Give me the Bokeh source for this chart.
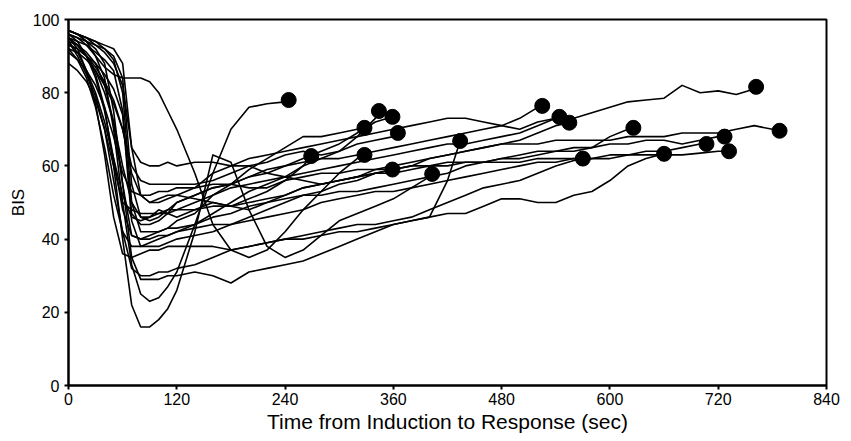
from bokeh.plotting import figure
from bokeh.models import FixedTicker, Range1d
from bokeh.embed import file_html
from bokeh.resources import INLINE

# time grid (sec) on which each BIS trace is read
grid_early = [0, 10, 20, 30, 40, 50, 60, 70, 80, 90, 100, 110, 120]
grid_late = [140, 160, 180, 200, 220, 240, 260, 280, 300, 320, 340, 360, 380, 400,
             420, 440, 460, 480, 500, 520, 540, 560, 580, 600, 620, 640, 660, 680,
             700, 720, 740, 760, 780]

x_ticks = [0, 120, 240, 360, 480, 600, 720, 840]
y_ticks = [0, 20, 40, 60, 80, 100]

# response (end of each trace, black dot)
response_time = [244, 269, 328, 344, 359, 365, 328, 359, 403, 434, 525,
                 544, 555, 570, 626, 660, 707, 727, 732, 762, 788]
response_bis = [78, 62.7, 70.4, 75, 73.4, 69, 63, 59, 57.8, 66.8, 76.4,
                73.4, 71.8, 62, 70.4, 63.3, 66, 68, 64, 81.6, 69.6]

bis_01 = [96, 95, 93, 90, 84, 70, 50, 33, 25, 23, 24, 27, 31,
          44, 58, 70, 76, 77, 77.5]
bis_02 = [94, 91, 86, 80, 72, 62, 52, 46, 45, 46, 48, 47, 46,
          48, 50, 49, 51, 53, 56, 60]
bis_03 = [97, 96, 94, 92, 88, 75, 55, 41, 40, 41, 42, 43, 45,
          47, 52, 55, 59, 62, 65, 68, 68, 69, 70]
bis_04 = [92, 89, 84, 76, 65, 52, 42, 38, 38, 39, 40, 41, 42,
          44, 47, 50, 53, 55, 57, 60, 62, 64, 68, 73]
bis_05 = [95, 94, 93, 91, 89, 86, 75, 47, 44, 44, 45, 47, 50,
          52, 54, 55, 57, 59, 60, 62, 64, 66, 69, 72]
bis_06 = [93, 92, 90, 87, 83, 78, 70, 60, 56, 55, 55, 55, 55,
          55, 56, 58, 60, 61, 63, 64, 63, 64, 66, 67, 68]
bis_07 = [97, 96, 94, 90, 87, 85, 84, 84, 84, 83, 80, 75, 70,
          58, 44, 37, 35, 37, 42, 48, 53, 58, 62]
bis_08 = [97, 96, 95, 93, 91, 88, 82, 65, 61, 60, 60, 61, 60,
          61, 61, 60, 60, 58, 57, 56, 55, 56, 57, 59]
bis_09 = [95, 93, 90, 85, 76, 60, 40, 22, 16, 16, 18, 21, 26,
          42, 63, 61, 48, 38, 35, 37, 41, 45, 47, 49, 51, 54, 57]
bis_10 = [88, 86, 83, 78, 70, 56, 42, 32, 30, 30, 31, 31, 32,
          33, 35, 37, 38, 39, 40, 40, 41, 42, 42, 43, 44, 45, 46, 56]
bis_11 = [96, 95, 94, 93, 92, 90, 84, 55, 46, 45, 46, 48, 50,
          52, 54, 55, 57, 58, 60, 61, 62, 62, 63, 64, 65, 66, 67, 68, 69, 70, 71, 73, 76]
bis_12 = [94, 90, 85, 79, 70, 60, 50, 48, 47, 47, 47, 48, 48,
          50, 52, 54, 55, 56, 57, 58, 59, 60, 61, 62, 63, 64, 65, 66, 66, 67, 68, 69, 71, 73]
bis_13 = [92, 91, 89, 86, 82, 77, 70, 58, 52, 50, 51, 52, 52,
          51, 50, 49, 48, 50, 52, 54, 55, 56, 57, 58, 59, 60, 62, 63, 64, 65, 66, 67, 69, 71]
bis_14 = [95, 92, 86, 77, 63, 46, 36, 35, 36, 37, 37, 38, 38,
          38, 38, 37, 38, 39, 40, 41, 42, 43, 44, 44, 45, 46, 48, 50, 52, 54, 55, 56, 58, 60, 61.5]
bis_15 = [97, 96, 95, 94, 92, 89, 80, 50, 42, 42, 42, 43, 43,
          44, 46, 47, 49, 50, 51, 52, 52, 53, 53, 54, 55, 56, 57, 58, 60, 61, 62, 62, 63, 64,
          64, 65, 68, 70]
bis_16 = [94, 93, 91, 88, 82, 72, 55, 35, 29, 29, 29, 30, 30,
          31, 30, 28, 31, 32, 33, 34, 36, 38, 40, 42, 44, 45, 46, 47, 47, 49, 51, 51, 50, 50,
          52, 53, 56, 60, 62]
bis_17 = [96, 94, 90, 84, 75, 62, 48, 41, 40, 40, 41, 41, 42,
          43, 44, 44, 45, 46, 47, 48, 50, 51, 52, 53, 53, 54, 55, 56, 57, 58, 59, 60, 61, 61,
          62, 62, 63, 63, 64, 64, 65, 66]
bis_18 = [93, 92, 90, 88, 85, 81, 74, 45, 38, 38, 38, 39, 40,
          41, 42, 44, 46, 48, 50, 52, 53, 55, 56, 58, 58, 59, 60, 60, 61, 61, 62, 63, 64, 64,
          65, 65, 66, 66, 67, 67, 66, 67, 68]
bis_19 = [95, 93, 90, 86, 80, 72, 60, 50, 46, 46, 47, 47, 48,
          48, 49, 49, 50, 51, 52, 54, 55, 56, 57, 58, 59, 60, 60, 61, 61, 61, 61, 61, 62, 62,
          62, 62, 62, 63, 63, 63, 63, 63.5, 64]
bis_20 = [97, 96, 95, 94, 93, 92, 88, 65, 52, 50, 50, 51, 52,
          54, 58, 60, 62, 63, 64, 65, 66, 67, 68, 69, 70, 71, 72, 73, 73, 72, 71, 70, 72, 73,
          73, 74.5, 76, 77.5, 78, 78.5, 82, 80, 80.5, 79.5, 81]
bis_21 = [91, 89, 86, 82, 76, 68, 58, 53, 52, 52, 53, 53, 54,
          54, 55, 55, 54, 54, 56, 57, 58, 58, 59, 59, 60, 61, 62, 63, 64, 65, 66, 66, 66, 67,
          67, 67, 67, 68, 68, 68, 69, 69, 69, 70, 71, 70]

traces = [bis_01, bis_02, bis_03, bis_04, bis_05, bis_06, bis_07, bis_08, bis_09, bis_10,
          bis_11, bis_12, bis_13, bis_14, bis_15, bis_16, bis_17, bis_18, bis_19, bis_20, bis_21]

FONT = "'Liberation Sans', Arial, Helvetica, sans-serif"

p = figure(width=851, height=441, output_backend="svg", toolbar_location=None,
           x_range=Range1d(0, 840), y_range=Range1d(0, 100),
           min_border_left=68, min_border_right=25, min_border_top=19, min_border_bottom=56)
p.background_fill_color = "white"
p.border_fill_color = "white"
p.outline_line_color = "black"
p.outline_line_width = 2
p.xgrid.visible = False
p.ygrid.visible = False

grid = grid_early + grid_late
for vals, te, ve in zip(traces, response_time, response_bis):
    ts = [t for t in grid[:len(vals)] if t < te]
    vs = vals[:len(ts)]
    p.line(ts + [te], vs + [ve], line_color="black", line_width=1.6, line_join="round")

p.scatter(response_time, response_bis, size=15, color="black")

for ax in (p.xaxis, p.yaxis):
    ax.axis_line_width = 2
    ax.axis_line_color = "black"
    ax.major_tick_line_width = 2
    ax.major_tick_line_color = "black"
    ax.major_tick_out = 4
    ax.major_tick_in = 0
    ax.minor_tick_line_color = None
    ax.major_label_text_font = FONT
    ax.major_label_text_font_size = "16px"
    ax.major_label_text_color = "black"
    ax.axis_label_text_font = FONT
    ax.axis_label_text_font_style = "normal"
    ax.axis_label_text_color = "black"

p.xaxis.ticker = FixedTicker(ticks=x_ticks)
p.yaxis.ticker = FixedTicker(ticks=y_ticks)
p.xaxis.major_label_standoff = 3
p.yaxis.major_label_standoff = 5

p.yaxis.axis_label = "BIS"
p.yaxis.axis_label_text_font_size = "17px"
p.yaxis.axis_label_standoff = 2
p.xaxis.axis_label = "Time from Induction to Response (sec)"
p.xaxis.axis_label_text_font_size = "21px"
p.xaxis.axis_label_standoff = 2

open("out.html", "w").write(file_html(p, INLINE))
